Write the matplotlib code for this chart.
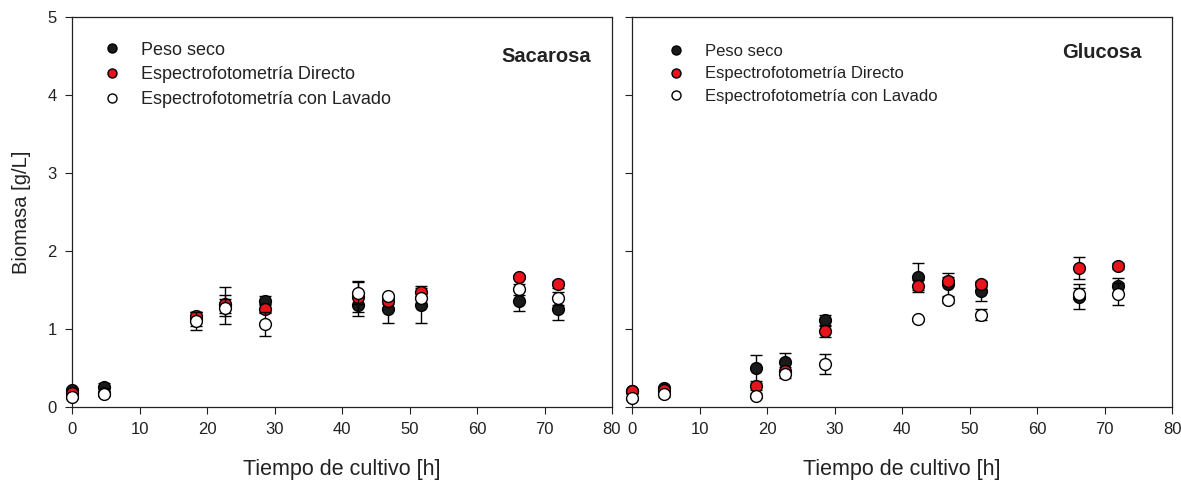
import matplotlib
matplotlib.use("Agg")
import matplotlib.pyplot as plt
from matplotlib.lines import Line2D

plt.rcParams['font.family'] = ['Liberation Sans', 'DejaVu Sans']

# Sampling times [h]
tiempo = [0, 4.7, 18.3, 22.7, 28.6, 42.3, 46.8, 51.7, 66.2, 72.0]

# Sacarosa
sac_peso = [0.21, 0.25, 1.12, 1.30, 1.36, 1.31, 1.25, 1.30, 1.36, 1.26]
sac_peso_err = [0.03, 0.06, 0.09, 0.24, 0.06, 0.14, 0.17, 0.22, 0.13, 0.15]
sac_directo = [0.17, 0.18, 1.16, 1.32, 1.26, 1.41, 1.36, 1.47, 1.67, 1.57]
sac_directo_err = [0.02, 0.02, 0.05, 0.12, 0.06, 0.20, 0.04, 0.08, 0.02, 0.05]
sac_lavado = [0.13, 0.16, 1.10, 1.27, 1.06, 1.46, 1.42, 1.40, 1.51, 1.39]
sac_lavado_err = [0.03, 0.02, 0.12, 0.11, 0.15, 0.14, 0.02, 0.02, 0.07, 0.08]

# Glucosa
glu_peso = [0.20, 0.245, 0.50, 0.58, 1.11, 1.67, 1.57, 1.49, 1.41, 1.55]
glu_peso_err = [0.02, 0.02, 0.17, 0.11, 0.07, 0.17, 0.15, 0.13, 0.16, 0.10]
glu_directo = [0.20, 0.21, 0.26, 0.46, 0.97, 1.55, 1.61, 1.57, 1.78, 1.81]
glu_directo_err = [0.02, 0.02, 0.05, 0.05, 0.08, 0.08, 0.05, 0.03, 0.14, 0.04]
glu_lavado = [0.11, 0.16, 0.14, 0.42, 0.55, 1.12, 1.37, 1.18, 1.45, 1.45]
glu_lavado_err = [0.02, 0.03, 0.03, 0.05, 0.13, 0.02, 0.04, 0.07, 0.07, 0.14]

etiquetas = ["Peso seco", "Espectrofotometría Directo", "Espectrofotometría con Lavado"]
colores = ["#1a1a1a", "#e8141c", "white"]
x_ticks = [0, 10, 20, 30, 40, 50, 60, 70, 80]
y_ticks = [0, 1, 2, 3, 4, 5]

fig = plt.figure(figsize=(11.81, 4.84), dpi=100)
ax1 = fig.add_axes([0.0612, 0.1597, 0.457, 0.8045])
ax2 = fig.add_axes([0.5354, 0.1597, 0.457, 0.8045])

# (axes, title, title position, legend anchor, legend font size, label spacing, text pad, data)
paneles = [
    (ax1, "Sacarosa", (0.961, 0.899), (0.034, 0.965), 13, 0.42, 1.0,
     [(sac_peso, sac_peso_err), (sac_directo, sac_directo_err), (sac_lavado, sac_lavado_err)]),
    (ax2, "Glucosa", (0.944, 0.909), (0.044, 0.958), 12, 0.46, 1.14,
     [(glu_peso, glu_peso_err), (glu_directo, glu_directo_err), (glu_lavado, glu_lavado_err)]),
]

for ax, titulo, pos_titulo, pos_leyenda, fs_ley, espacio, pad_txt, series in paneles:
    for i, ((vals, errs), col) in enumerate(zip(series, colores)):
        ax.errorbar(tiempo, vals, yerr=errs, fmt='o', ms=8.5, mfc=col, mec='black',
                    mew=1.0, ecolor='black', elinewidth=1.0, capsize=4.5, capthick=1.0,
                    zorder=3 + i, clip_on=False)
    ax.set_xlim(0, 80)
    ax.set_ylim(0, 5)
    ax.set_xticks(x_ticks)
    ax.set_yticks(y_ticks)
    ax.tick_params(direction='out', length=5, width=0.8, labelsize=12, pad=6, colors='#222222')
    for s in ax.spines.values():
        s.set_linewidth(0.9)
        s.set_color('#222222')
    ax.set_xlabel("Tiempo de cultivo [h]", fontsize=15.5, labelpad=16, color='#222222')
    ax.text(pos_titulo[0], pos_titulo[1], titulo, transform=ax.transAxes, ha='right',
            va='center', fontsize=14.5, fontweight='bold', color='#222222')
    handles = [Line2D([], [], ls='none', marker='o', ms=6.5, mfc=c, mec='black', mew=1.0)
               for c in colores]
    ax.legend(handles, etiquetas, loc='upper left', bbox_to_anchor=pos_leyenda,
              frameon=False, fontsize=fs_ley, handlelength=1.2, handletextpad=pad_txt,
              labelspacing=espacio, borderaxespad=0.2, labelcolor='#222222')

ax1.set_ylabel("Biomasa [g/L]", fontsize=14.5, labelpad=12, color='#222222')
ax2.tick_params(axis='y', labelleft=False)

fig.savefig("out.png", dpi=100)
